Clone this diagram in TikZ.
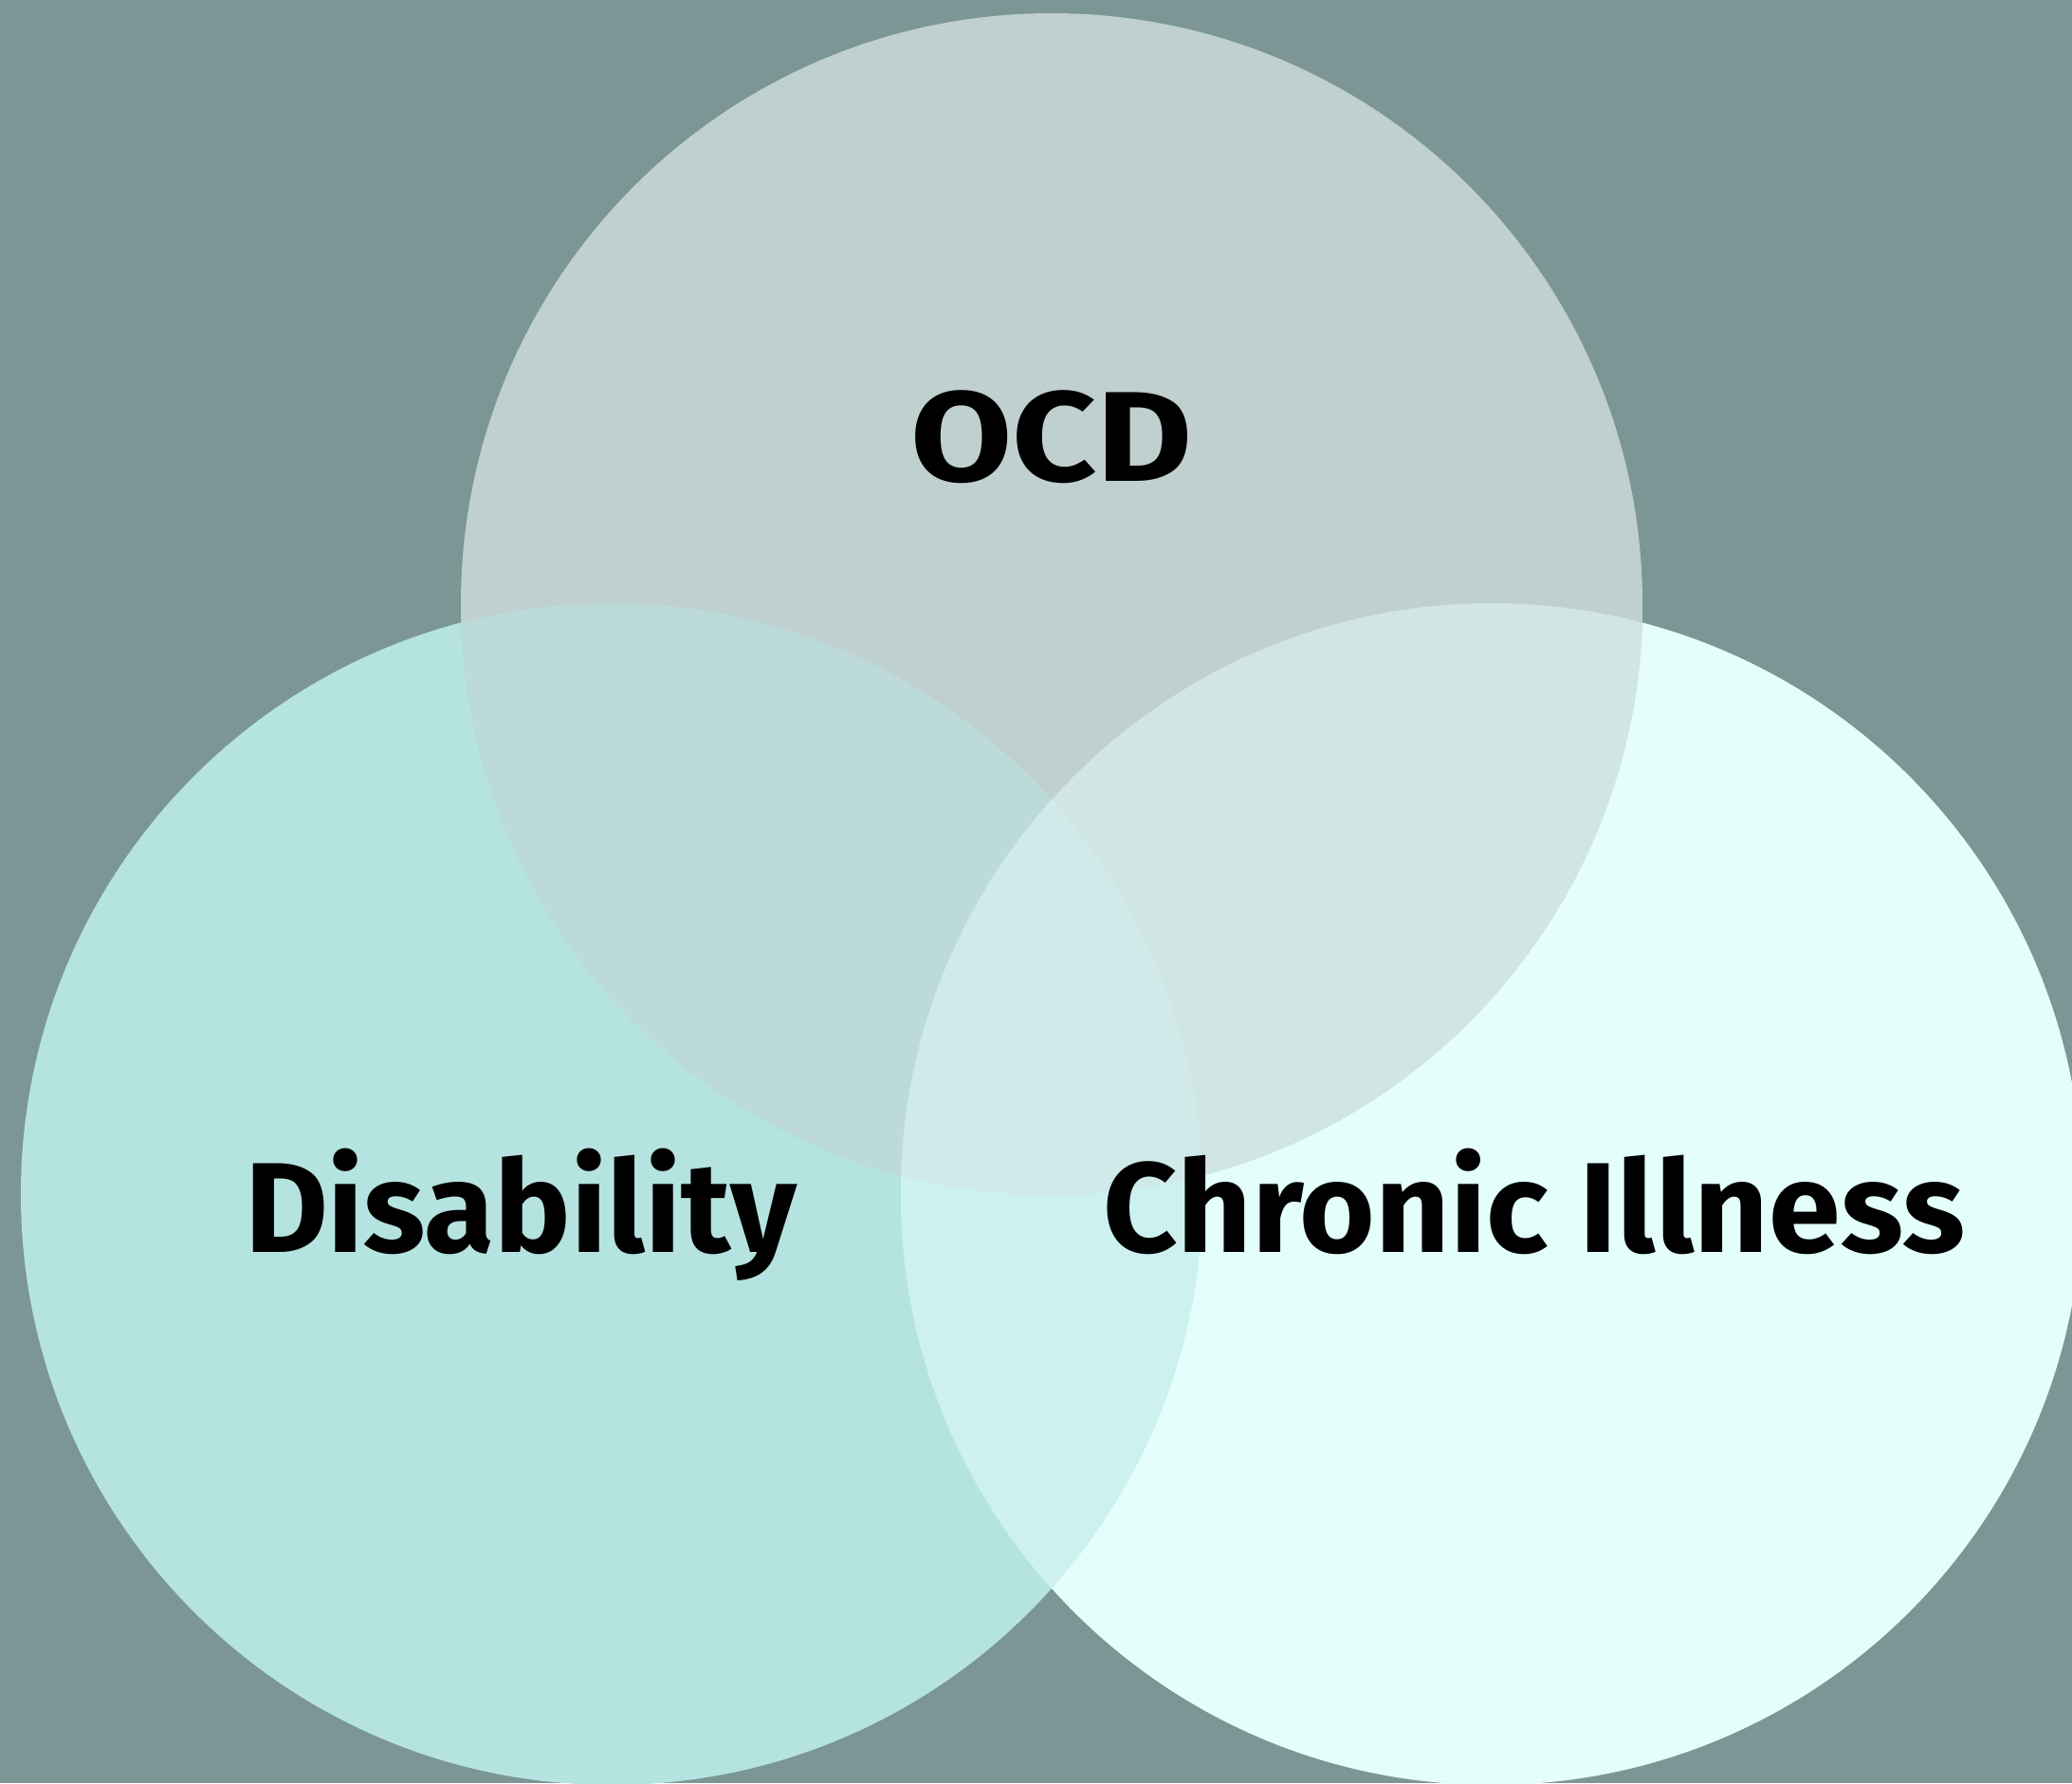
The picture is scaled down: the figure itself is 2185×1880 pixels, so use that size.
\documentclass[tikz,border=0pt]{standalone}
\usepackage{fontspec}
\setmainfont{Fira Sans}
\definecolor{bgteal}{HTML}{7B9695}
\definecolor{topfill}{HTML}{BFD0CF}
\definecolor{leftfill}{HTML}{B5E3E0}
\definecolor{rightfill}{HTML}{E3FEFB}
\definecolor{topleft}{HTML}{BBDAD9}
\definecolor{topright}{HTML}{D1E5E4}
\definecolor{leftright}{HTML}{CDF1EF}
\definecolor{allthree}{HTML}{D0EAEA}
\begin{document}
\begin{tikzpicture}[x=1pt,y=-1pt,
  label/.style={anchor=base,inner sep=0pt,text=black,
    font=\fontsize{135}{140}\selectfont\bfseries}]
\useasboundingbox (0,0) rectangle (2185,1880);
\fill[bgteal] (0,0) rectangle (2185,1880);
\coordinate (T) at (1109,637);
\coordinate (L) at (645,1259);
\coordinate (R) at (1573,1259);
\def\rad{623pt}
% single-set discs
\fill[leftfill] (L) circle[radius=\rad];
\fill[rightfill] (R) circle[radius=\rad];
\fill[topfill] (T) circle[radius=\rad];
% pairwise overlaps
\begin{scope}
  \clip (T) circle[radius=\rad];
  \fill[topleft] (L) circle[radius=\rad];
  \fill[topright] (R) circle[radius=\rad];
\end{scope}
\begin{scope}
  \clip (L) circle[radius=\rad];
  \fill[leftright] (R) circle[radius=\rad];
  \clip (R) circle[radius=\rad];
  \fill[allthree] (T) circle[radius=\rad];
\end{scope}
% set names
\node[label,xscale=1.15] (ocd) at (1109,507) {OCD};
\node[label] (dis) at (549,1320) {Disability};
\node[label,xscale=1.012] (chr) at (1618,1320) {Chronic Illness};
\end{tikzpicture}
\end{document}
